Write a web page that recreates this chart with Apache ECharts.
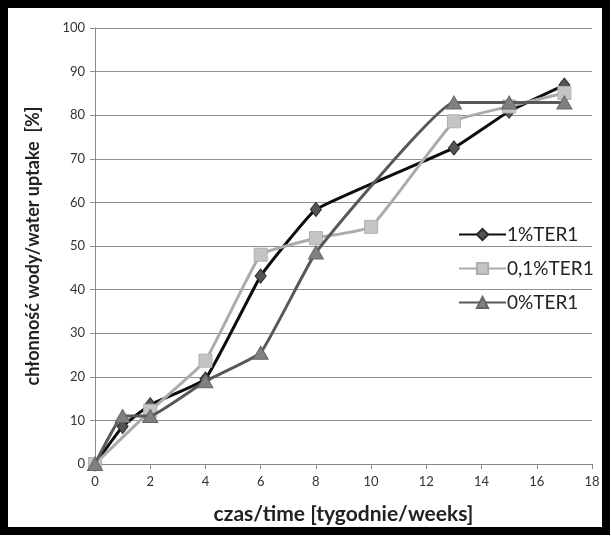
<!DOCTYPE html>
<html>
<head>
<meta charset="utf-8">
<script src="https://cdn.jsdelivr.net/npm/echarts@6/dist/echarts.min.js"></script>
<style>
  html, body { margin: 0; padding: 0; background: #fff; }
  #chart { width: 611px; height: 536px; }
</style>
</head>
<body>
<div id="chart"></div>
<script>
// Water uptake over time for three TER1 contents
const weeks1 = [0, 1, 2, 4, 6, 8, 13, 15, 17];
const uptake1 = [0, 8.6, 13.6, 19.5, 43.1, 58.4, 72.5, 80.9, 86.9];

const weeks01 = [0, 2, 4, 6, 8, 10, 13, 15, 17];
const uptake01 = [0, 12.2, 23.7, 48.0, 51.8, 54.4, 78.6, 82.0, 85.1];

const weeks0 = [0, 1, 2, 4, 6, 8, 13, 15, 17];
const uptake0 = [0, 11.0, 11.0, 19.0, 25.5, 48.5, 82.9, 82.9, 82.9];

const seriesNames = ['1%TER1', '0,1%TER1', '0%TER1'];
const xTicks = [0, 2, 4, 6, 8, 10, 12, 14, 16, 18];
const yTicks = [0, 10, 20, 30, 40, 50, 60, 70, 80, 90, 100];

const pairs = (xs, ys) => xs.map((x, i) => [x, ys[i]]);

const FONT = 'Lato, "Open Sans", sans-serif';
const SMOOTH = 0.1;

const chart = echarts.init(document.getElementById('chart'), null, { renderer: 'canvas' });

chart.setOption({
  backgroundColor: '#ffffff',
  animation: false,
  grid: { left: 95, right: 19, top: 28, bottom: 72, containLabel: false },
  xAxis: {
    type: 'value',
    min: xTicks[0],
    max: xTicks[xTicks.length - 1],
    interval: 2,
    name: 'czas/time [tygodnie/weeks]',
    nameLocation: 'middle',
    nameGap: 40,
    nameTextStyle: { fontFamily: FONT, fontSize: 21, fontWeight: 'bold', color: '#222' },
    axisLine: { show: true, lineStyle: { color: '#8a8a8a', width: 1 } },
    axisTick: { show: true, inside: false, length: 5, lineStyle: { color: '#8a8a8a' } },
    axisLabel: { fontFamily: FONT, fontSize: 13, color: '#333', margin: 11 },
    splitLine: { show: false }
  },
  yAxis: {
    type: 'value',
    min: yTicks[0],
    max: yTicks[yTicks.length - 1],
    interval: 10,
    name: 'chłonność wody/water uptake  [%]',
    nameLocation: 'middle',
    nameGap: 53,
    nameRotate: 90,
    nameTextStyle: { fontFamily: FONT, fontSize: 18, fontWeight: 'bold', color: '#222' },
    axisLine: { show: true, lineStyle: { color: '#8a8a8a', width: 1 } },
    axisTick: { show: true, inside: false, length: 5, lineStyle: { color: '#8a8a8a' } },
    axisLabel: { fontFamily: FONT, fontSize: 13, color: '#333', margin: 10 },
    splitLine: { show: true, lineStyle: { color: '#8f8f8f', width: 1 } }
  },
  legend: {
    orient: 'vertical',
    left: 453,
    top: 220,
    itemWidth: 47,
    itemHeight: 14,
    itemGap: 15,
    textStyle: { fontFamily: FONT, fontSize: 19, color: '#222', padding: [0, 0, 0, -4] },
    data: seriesNames
  },
  series: [
    {
      name: seriesNames[0],
      type: 'line',
      data: pairs(weeks1, uptake1),
      smooth: SMOOTH,
      symbol: 'diamond',
      symbolSize: [11, 14],
      lineStyle: { color: '#0d0d0d', width: 3 },
      itemStyle: { color: '#555555', borderColor: '#2a2a2a', borderWidth: 1 },
      z: 2
    },
    {
      name: seriesNames[1],
      type: 'line',
      data: pairs(weeks01, uptake01),
      smooth: SMOOTH,
      symbol: 'rect',
      symbolSize: 13,
      lineStyle: { color: '#ababab', width: 3 },
      itemStyle: { color: '#c4c4c4', borderColor: '#b0b0b0', borderWidth: 1 },
      z: 3
    },
    {
      name: seriesNames[2],
      type: 'line',
      data: pairs(weeks0, uptake0),
      smooth: SMOOTH,
      symbol: 'triangle',
      symbolSize: [15, 13],
      lineStyle: { color: '#585858', width: 3 },
      itemStyle: { color: '#808080', borderColor: '#666666', borderWidth: 1 },
      z: 4
    }
  ],
  graphic: [
    {
      type: 'rect',
      silent: true,
      z: 100,
      shape: { x: 4, y: 4, width: 602, height: 527 },
      style: { fill: null, stroke: '#000', lineWidth: 8 }
    }
  ]
});
</script>
</body>
</html>
